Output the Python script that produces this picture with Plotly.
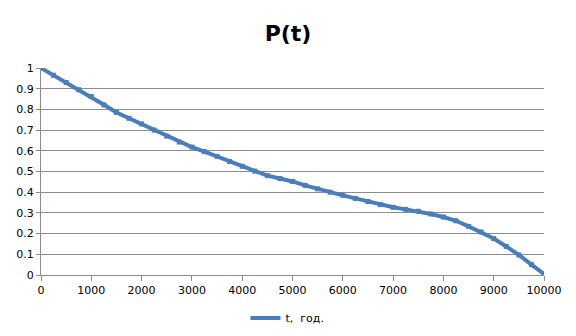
import plotly.graph_objects as go

# Survival probability P(t) over time t (hours)
t_values = [0, 250, 500, 750, 1000, 1250, 1500, 1750, 2000, 2250, 2500, 2750,
            3000, 3250, 3500, 3750, 4000, 4250, 4500, 4750, 5000, 5250, 5500,
            5750, 6000, 6250, 6500, 6750, 7000, 7250, 7500, 7750, 8000, 8250,
            8500, 8750, 9000, 9250, 9500, 9750, 10000]
p_values = [1.0, 0.965, 0.93, 0.895, 0.862, 0.822, 0.785, 0.757, 0.73, 0.70,
            0.671, 0.642, 0.618, 0.596, 0.573, 0.548, 0.525, 0.502, 0.48,
            0.466, 0.452, 0.433, 0.416, 0.40, 0.385, 0.370, 0.355, 0.340,
            0.327, 0.317, 0.308, 0.295, 0.28, 0.262, 0.235, 0.208, 0.176,
            0.138, 0.097, 0.05, 0.005]
series_name = "t,  год."
chart_title = "P(t)"

line_color = "#4a7ebb"
grid_color = "#8c8c8c"
font_family = "DejaVu Sans"

fig = go.Figure()
# Thick line, shown in the legend
fig.add_trace(go.Scatter(
    x=t_values, y=p_values, name=series_name,
    mode="lines",
    line=dict(color=line_color, width=4),
    showlegend=True,
))
# Square point markers along the same series
fig.add_trace(go.Scatter(
    x=t_values, y=p_values, name=series_name,
    mode="markers",
    marker=dict(symbol="square", size=5, color=line_color),
    showlegend=False,
))

fig.update_layout(
    width=576, height=336,
    margin=dict(l=41, r=32, t=68, b=61, autoexpand=False),
    paper_bgcolor="white", plot_bgcolor="white",
    font=dict(family=font_family, size=11, color="#000000"),
    title=dict(text="<b>" + chart_title + "</b>", x=0.5, xanchor="center",
               y=0.9, yanchor="middle",
               font=dict(family=font_family, size=22, color="#000000")),
    legend=dict(orientation="h", x=0.49, xanchor="center", y=-0.208,
                yanchor="middle", font=dict(size=11),
                itemwidth=30),
    xaxis=dict(range=[0, 10000], dtick=1000, tick0=0, tickformat="d",
               showgrid=False, zeroline=False,
               showline=True, linecolor=grid_color, linewidth=1,
               ticks="outside", ticklen=5, tickcolor=grid_color,
               tickfont=dict(size=11)),
    yaxis=dict(range=[0, 1], dtick=0.1, tick0=0,
               showgrid=True, gridcolor=grid_color, gridwidth=1,
               zeroline=False,
               showline=True, linecolor=grid_color, linewidth=1,
               ticks="outside", ticklen=4, tickcolor=grid_color,
               tickfont=dict(size=11)),
)

fig.write_html("out.html")
